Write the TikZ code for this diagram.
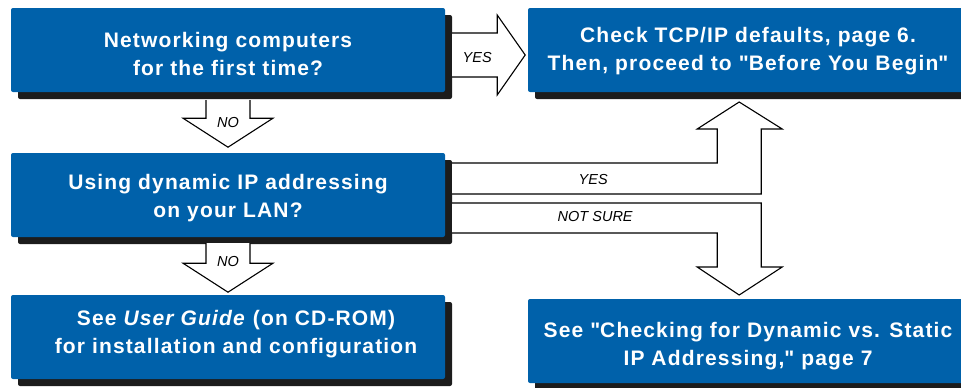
\documentclass[tikz,border=0pt]{standalone}
\usepackage{fontspec}
\setmainfont{Liberation Sans}
\newfontfamily\boxfont{Liberation Sans}[LetterSpace=5.5]
\usetikzlibrary{calc,positioning,shadows}

\definecolor{boxblue}{RGB}{0,97,170}
\definecolor{boxshade}{RGB}{28,28,28}

\begin{document}
\begin{tikzpicture}[x=1pt,y=-1pt,
    stepbox/.style={fill=boxblue, rounded corners=2pt, minimum width=434pt,
      minimum height=84pt, inner sep=0pt, align=center, text=white,
      font=\boxfont\fontsize{21}{28}\selectfont\bfseries,
      drop shadow={shadow xshift=7pt, shadow yshift=-7pt, fill=boxshade, opacity=1}},
    textdown/.style={text height=43.3pt+2*#1},
    bigarrow/.style={draw=black, fill=white, line width=1.1pt, line join=miter},
    lbl/.style={font=\fontsize{14.5}{16}\selectfont\itshape, inner sep=0pt}]
    \useasboundingbox (0,0) rectangle (961,388);

    % Boxes
    \node[stepbox, textdown=4pt] (first) at (228,50) {Networking computers\\for the first time?};
    \node[stepbox, textdown=1.5pt, minimum width=440pt] (tcpip) at (748,50)
      {Check TCP/IP defaults, page 6.\\Then, proceed to \textquotedbl Before You Begin\textquotedbl};
    \node[stepbox, textdown=3pt] (dynamic) at (228,195) {Using dynamic IP addressing\\on your LAN?};
    \node[stepbox, textdown=-3pt] (guide) at (228,337)
      {\hspace*{16pt}See \textit{User Guide} (on CD-ROM)\\\hspace*{16pt}for installation and configuration};
    \node[stepbox, textdown=5.5pt, minimum width=440pt] (static) at (748,341)
      {See \textquotedbl Checking for Dynamic vs. Static\\IP Addressing,\textquotedbl{} page 7};

    % YES: first -> tcpip
    \coordinate (yesa) at ($(first.east)+(7,-17)$);
    \draw[bigarrow] (yesa) -- ++(45,0) -- ++(0,-18) -- ++(28,40) -- ++(-28,40) -- ++(0,-18) -- ++(-45,0);
    \node[lbl] (yesalbl) at ($(first.east)+(32,8)$) {YES};

    % NO: first -> dynamic
    \coordinate (noa) at ($(first.south)+(0,8)$);
    \draw[bigarrow] (noa) ++(-22,0) -- ++(0,18) -- ++(-23,0) -- ++(45,29) -- ++(45,-29) -- ++(-23,0) -- ++(0,-18);
    \node[lbl] (noalbl) at ($(noa)+(0,22)$) {NO};

    % NO: dynamic -> guide
    \coordinate (nob) at ($(dynamic.south)+(0,6)$);
    \draw[bigarrow] (nob) ++(-22,0) -- ++(0,20) -- ++(-23,0) -- ++(45,29) -- ++(45,-29) -- ++(-23,0) -- ++(0,-20);
    \node[lbl] (noblbl) at ($(nob)+(0,18)$) {NO};

    % YES: dynamic -> tcpip
    \coordinate (yesb) at ($(dynamic.east)+(7,-32)$);
    \draw[bigarrow] (yesb) -- ++(265,0) -- ++(0,-34) -- ++(-20,0) -- ++(42,-27) -- ++(43,27) -- ++(-21,0) -- ++(0,65) -- ++(-309,0);
    \node[lbl] (yesblbl) at ($(dynamic.east)+(148,-15)$) {YES};

    % NOT SURE: dynamic -> static
    \coordinate (unsure) at ($(dynamic.east)+(7,8)$);
    \draw[bigarrow] (unsure) -- ++(309,0) -- ++(0,64) -- ++(21,0) -- ++(-43,28) -- ++(-42,-28) -- ++(20,0) -- ++(0,-34) -- ++(-265,0);
    \node[lbl] (unsurelbl) at ($(dynamic.east)+(150,22)$) {NOT SURE};
\end{tikzpicture}
\end{document}
